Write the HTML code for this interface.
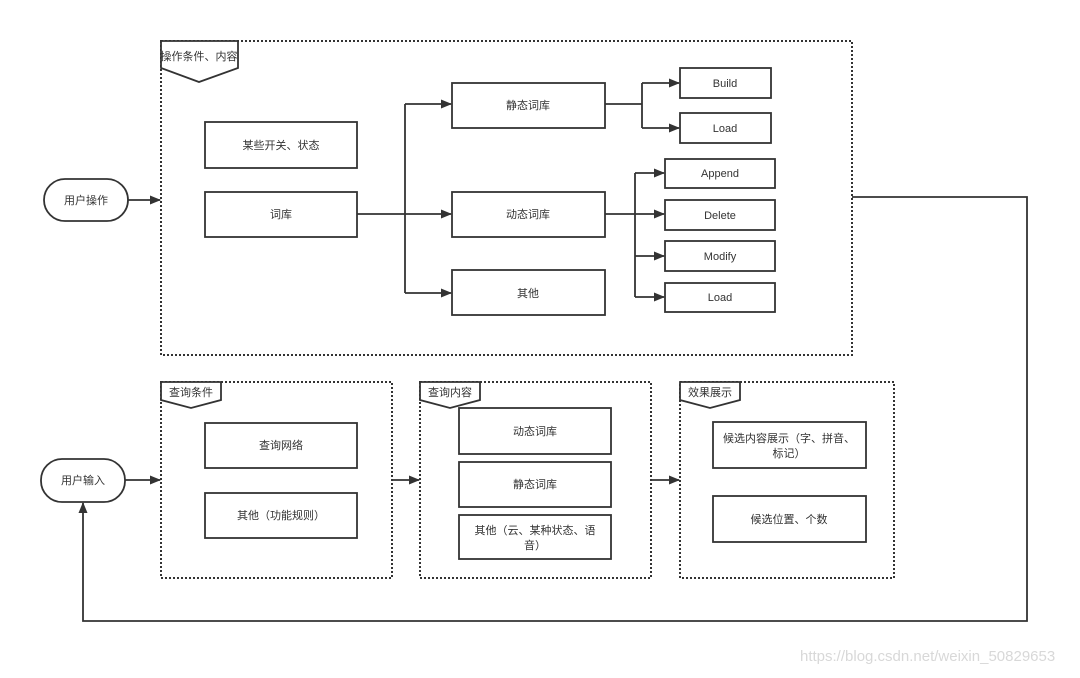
<!DOCTYPE html>
<html><head><meta charset="utf-8"><style>
html,body{margin:0;padding:0;background:#fff;}
svg text{font-family:"Liberation Sans","Noto Sans CJK SC",sans-serif;font-size:11px;fill:#333;}
</style></head><body>
<svg width="1080" height="673" viewBox="0 0 1080 673" xmlns="http://www.w3.org/2000/svg">
<defs>
<marker id="a" markerWidth="11" markerHeight="9" refX="10" refY="4.5" orient="auto" markerUnits="userSpaceOnUse"><path d="M0,0 L11,4.5 L0,9 z" fill="#333"/></marker>
</defs>
<g fill="none" stroke="#333" stroke-width="2" stroke-dasharray="2,2">
<rect x="161" y="41" width="691" height="314"/>
<rect x="161" y="382" width="231" height="196"/>
<rect x="420" y="382" width="231" height="196"/>
<rect x="680" y="382" width="214" height="196"/>
</g>
<g fill="#fff" stroke="#333" stroke-width="1.8">
<path d="M161,41 L238,41 L238,68 L199,82 L161,68 Z"/>
<path d="M161,382 L221,382 L221,400 L191,408 L161,400 Z"/>
<path d="M420,382 L480,382 L480,400 L450,408 L420,400 Z"/>
<path d="M680,382 L740,382 L740,400 L710,408 L680,400 Z"/>
<rect x="44" y="179" width="84" height="42" rx="21"/>
<rect x="41" y="459" width="84" height="43" rx="21"/>
<rect x="205" y="122" width="152" height="46"/>
<rect x="205" y="192" width="152" height="45"/>
<rect x="452" y="83" width="153" height="45"/>
<rect x="452" y="192" width="153" height="45"/>
<rect x="452" y="270" width="153" height="45"/>
<rect x="680" y="68" width="91" height="30"/>
<rect x="680" y="113" width="91" height="30"/>
<rect x="665" y="159" width="110" height="29"/>
<rect x="665" y="200" width="110" height="30"/>
<rect x="665" y="241" width="110" height="30"/>
<rect x="665" y="283" width="110" height="29"/>
<rect x="205" y="423" width="152" height="45"/>
<rect x="205" y="493" width="152" height="45"/>
<rect x="459" y="408" width="152" height="46"/>
<rect x="459" y="462" width="152" height="45"/>
<rect x="459" y="515" width="152" height="44"/>
<rect x="713" y="422" width="153" height="46"/>
<rect x="713" y="496" width="153" height="46"/>
</g>
<g fill="none" stroke="#333" stroke-width="1.8">
<path d="M128,200 H160" marker-end="url(#a)"/>
<path d="M125,480 H160" marker-end="url(#a)"/>
<path d="M392,480 H419" marker-end="url(#a)"/>
<path d="M651,480 H679" marker-end="url(#a)"/>
<path d="M357,214 H405"/>
<path d="M405,104 V293"/>
<path d="M405,104 H451" marker-end="url(#a)"/>
<path d="M405,214 H451" marker-end="url(#a)"/>
<path d="M405,293 H451" marker-end="url(#a)"/>
<path d="M605,104 H642 M642,83 V128"/>
<path d="M642,83 H679" marker-end="url(#a)"/>
<path d="M642,128 H679" marker-end="url(#a)"/>
<path d="M605,214 H635 M635,173 V297"/>
<path d="M635,173 H664" marker-end="url(#a)"/>
<path d="M635,214 H664" marker-end="url(#a)"/>
<path d="M635,256 H664" marker-end="url(#a)"/>
<path d="M635,297 H664" marker-end="url(#a)"/>
<path d="M852,197 H1027 V621 H83 V503" marker-end="url(#a)"/>
</g>
<g text-anchor="middle">
<text x="199" y="60">操作条件、内容</text>
<text x="191" y="396">查询条件</text>
<text x="450" y="396">查询内容</text>
<text x="710" y="396">效果展示</text>
<text x="86" y="204">用户操作</text>
<text x="83" y="484">用户输入</text>
<text x="281" y="149">某些开关、状态</text>
<text x="281" y="218">词库</text>
<text x="528" y="109">静态词库</text>
<text x="528" y="218">动态词库</text>
<text x="528" y="297">其他</text>
<text x="725" y="87">Build</text>
<text x="725" y="132">Load</text>
<text x="720" y="177">Append</text>
<text x="720" y="219">Delete</text>
<text x="720" y="260">Modify</text>
<text x="720" y="301">Load</text>
<text x="281" y="449">查询网络</text>
<text x="281" y="519">其他（功能规则）</text>
<text x="535" y="435">动态词库</text>
<text x="535" y="488">静态词库</text>
<text x="535" y="534">其他（云、某种状态、语</text>
<text x="535" y="549">音）</text>
<text x="789" y="442">候选内容展示（字、拼音、</text>
<text x="789" y="457">标记）</text>
<text x="789" y="523">候选位置、个数</text>
</g>
<text x="800" y="661" style="font-size:15px;fill:#d8d8d8">https://blog.csdn.net/weixin_50829653</text>
</svg>
</body></html>
